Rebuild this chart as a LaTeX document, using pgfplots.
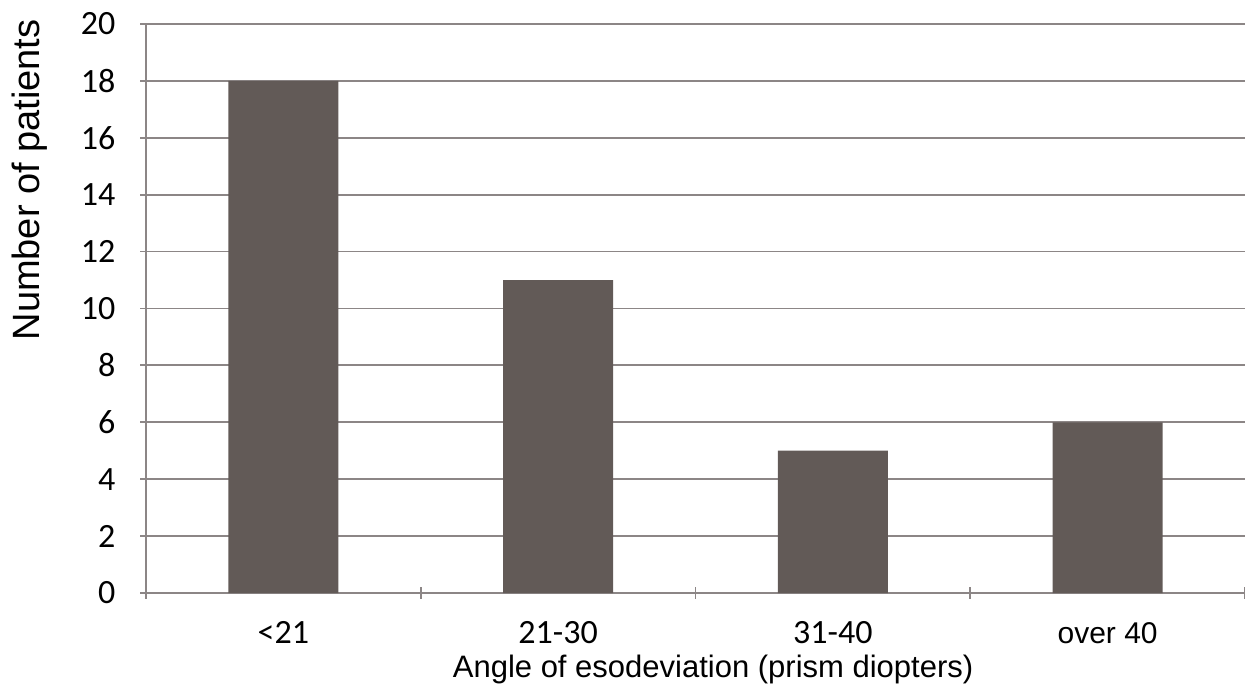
\documentclass[border=0pt]{standalone}
\usepackage{pgfplots}
\pgfplotsset{compat=1.18}
\usepackage{fontspec}
\setmainfont{Carlito}
\newfontfamily\arial{Liberation Sans}
\definecolor{barcol}{RGB}{98,90,87}
\definecolor{gridcol}{RGB}{140,134,134}
\begin{document}
\begin{tikzpicture}
\useasboundingbox (-73bp,-49.5bp) rectangle (549.5bp,296.5bp);
\begin{axis}[
  at={(0,0)}, anchor=south west,
  scale only axis, width=549.5bp, height=284.5bp,
  xmin=-0.5, xmax=3.5, ymin=0, ymax=20,
  ytick={0,2,...,20},
  xtick={0,1,2,3},
  xticklabels={<21,21-30,31-40,{\arial\fontsize{15bp}{17bp}\selectfont over 40}},
  minor xtick={-0.5,0.5,1.5,2.5,3.5},
  major x tick style={draw=none},
  tick align=outside,
  major tick length=5.5bp, minor tick length=5.5bp,
  tick style={gridcol, line width=0.9bp},
  axis x line=bottom, axis y line=left,
  axis line style={-, gridcol, line width=0.9bp},
  ymajorgrids, major grid style={gridcol, line width=0.9bp},
  /pgf/number format/assume math mode=true,
  tick label style={font=\fontsize{17bp}{20bp}\selectfont},
  yticklabel style={xshift=-9bp},
  xticklabel style={anchor=base, inner sep=0pt, yshift=-22.5bp},
  xlabel={Angle of esodeviation (prism diopters)},
  ylabel={Number of patients},
  xlabel style={font=\arial\fontsize{15.5bp}{18bp}\selectfont, inner sep=0pt, at={(axis description cs:0.516,-0.148)}, anchor=base},
  ylabel style={font=\arial\fontsize{19bp}{22bp}\selectfont, at={(axis description cs:-0.1055,0.726)}, anchor=center, rotate=0},
  clip=false,
]
\addplot[ybar, bar width=0.4, fill=barcol, draw=none] coordinates {
  (0,18) (1,11) (2,5) (3,6)
};
\end{axis}
\end{tikzpicture}
\end{document}
